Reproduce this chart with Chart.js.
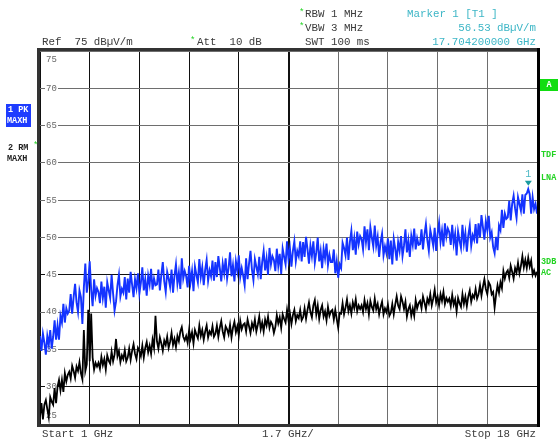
<!DOCTYPE html>
<html>
<head>
<meta charset="utf-8">
<script src="https://cdn.jsdelivr.net/npm/chart.js@4.4.0/dist/chart.umd.min.js"></script>
<style>
  html, body { margin: 0; padding: 0; background: #fff; }
  #screen { display: block; }
</style>
</head>
<body>
<canvas id="screen" width="558" height="439"></canvas>
<script>
// Sweep settings
const START_GHZ = 1;
const STOP_GHZ = 18;
const SPAN_PER_DIV = 1.7;

// X grid positions (GHz) and Y tick labels (dBuV/m)
const xGridTicks = [1, 2.7, 4.4, 6.1, 7.8, 9.5, 11.2, 12.9, 14.6, 16.3, 18];
const yTickLabels = [75, 70, 65, 60, 55, 50, 45, 40, 35, 30, 25];

// Trace 1: PK MAXH (blue), one row per GHz, 0.05 GHz steps
const trace1Pk = [
  36.8, 34.8, 37.1, 35.9, 34.3, 36.8, 35.6, 37.6, 35.1, 36.7, 38.9, 36.3, 38.2, 36.3, 39.5, 38.6, 41.1, 38.6, 40.5, 39.8,
  40.2, 42.4, 39.8, 42.0, 43.8, 41.3, 40.0, 42.9, 42.0, 38.4, 43.3, 46.5, 42.6, 44.1, 46.8, 43.0, 40.8, 44.4, 42.2, 43.2,
  42.7, 41.2, 44.1, 41.9, 43.4, 40.6, 44.0, 42.9, 41.9, 45.0, 42.5, 40.2, 41.4, 43.6, 45.0, 42.1, 43.1, 42.6, 44.7, 41.7,
  44.5, 42.6, 45.4, 43.7, 42.0, 44.4, 43.2, 45.2, 42.5, 43.9, 46.0, 42.9, 44.4, 42.2, 44.9, 43.7, 45.8, 43.0, 44.5, 43.6,
  43.7, 45.7, 42.9, 45.0, 46.7, 44.1, 42.7, 45.4, 44.5, 43.4, 45.7, 42.6, 44.9, 46.4, 43.8, 45.3, 43.1, 47.2, 44.5, 45.5,
  44.8, 43.3, 46.2, 44.0, 45.5, 42.8, 46.1, 45.0, 44.0, 47.1, 44.7, 46.0, 43.6, 45.7, 47.0, 44.2, 45.6, 44.8, 46.9, 44.2,
  46.7, 44.7, 47.5, 45.9, 44.1, 46.5, 45.2, 47.2, 44.5, 45.9, 48.0, 44.8, 46.3, 44.1, 46.8, 45.5, 47.6, 44.7, 45.9, 44.9,
  43.6, 47.2, 44.4, 46.5, 48.2, 45.7, 44.3, 47.1, 46.1, 45.1, 47.4, 44.4, 46.7, 48.2, 45.6, 47.2, 45.0, 48.6, 46.4, 47.5,
  47.0, 45.5, 48.5, 46.2, 47.8, 45.1, 48.5, 47.4, 46.4, 49.5, 47.1, 48.5, 46.1, 48.2, 49.5, 46.8, 48.2, 47.5, 49.5, 46.8,
  49.4, 47.4, 50.1, 48.4, 46.5, 48.9, 47.5, 49.5, 46.6, 48.0, 50.0, 46.8, 48.2, 45.9, 48.5, 47.2, 49.2, 46.3, 47.7, 46.7,
  46.7, 48.4, 45.2, 46.8, 44.6, 46.4, 45.9, 49.3, 48.6, 47.6, 50.0, 47.0, 49.4, 50.9, 48.3, 49.9, 47.7, 50.8, 49.1, 50.2,
  49.8, 48.4, 51.5, 49.4, 51.1, 48.3, 51.4, 50.0, 48.8, 51.6, 48.9, 50.1, 47.4, 49.4, 50.5, 47.6, 48.8, 47.9, 49.9, 47.1,
  49.6, 46.4, 49.8, 48.5, 46.9, 49.4, 48.2, 50.2, 47.5, 48.9, 51.1, 48.0, 49.6, 47.4, 50.2, 49.0, 51.2, 48.4, 49.9, 49.0,
  49.1, 51.1, 48.4, 50.4, 51.8, 49.6, 48.2, 51.0, 50.0, 48.9, 51.3, 48.2, 50.5, 52.0, 49.4, 50.9, 48.8, 51.9, 50.1, 51.2,
  50.7, 49.0, 51.7, 49.2, 50.5, 47.6, 50.8, 49.6, 48.6, 51.7, 49.2, 50.6, 48.1, 50.3, 51.6, 48.9, 50.3, 49.7, 51.8, 49.2,
  51.9, 50.0, 53.0, 51.4, 49.7, 52.2, 51.0, 52.9, 50.0, 50.7, 48.7, 47.9, 50.1, 48.3, 51.6, 51.0, 53.7, 51.3, 53.2, 52.5,
  52.7, 54.9, 52.3, 54.5, 55.6, 53.9, 52.6, 55.4, 54.5, 53.6, 55.8, 53.2, 55.7, 55.9, 56.5, 55.8, 53.2, 55.4, 53.8, 54.5,
  53.2
];

// Trace 2: RM MAXH (black), same sweep points
const trace2Rm = [
  26.0, 27.8, 25.6, 27.6, 28.2, 27.0, 25.9, 28.6, 28.0, 27.6, 29.8, 27.8, 30.0, 30.9, 29.5, 30.9, 29.3, 31.8, 30.7, 31.6,
  32.0, 31.1, 32.8, 32.1, 31.2, 32.7, 32.1, 33.3, 31.8, 31.0, 37.6, 32.1, 33.0, 40.3, 33.4, 39.8, 33.9, 32.3, 33.2, 32.7,
  33.2, 32.4, 34.0, 32.9, 33.7, 32.3, 34.2, 33.5, 33.1, 34.7, 33.4, 34.3, 36.4, 34.1, 34.8, 33.3, 34.2, 33.7, 34.9, 33.4,
  33.9, 35.1, 33.6, 34.8, 35.7, 34.4, 33.7, 35.2, 34.8, 34.1, 35.5, 33.9, 35.2, 36.0, 34.6, 35.5, 34.4, 36.3, 35.2, 39.5,
  36.1, 35.1, 36.6, 35.8, 34.8, 36.2, 35.6, 36.7, 35.2, 36.0, 37.2, 35.6, 36.4, 35.3, 36.8, 36.1, 37.4, 38.0, 36.7, 36.2,
  36.8, 35.9, 37.6, 36.4, 37.3, 35.8, 37.6, 37.0, 36.5, 38.2, 36.8, 37.6, 36.3, 37.4, 38.2, 36.6, 37.4, 37.0, 38.1, 36.7,
  37.1, 38.2, 36.7, 37.9, 38.8, 37.4, 36.6, 38.1, 37.7, 37.0, 38.3, 36.6, 37.9, 38.7, 37.3, 38.1, 36.9, 38.8, 37.7, 38.3,
  38.5, 37.4, 39.0, 38.1, 37.2, 38.5, 37.8, 39.0, 37.4, 38.3, 39.4, 37.7, 38.6, 37.4, 39.0, 38.2, 39.4, 37.9, 38.7, 38.3,
  37.2, 38.0, 39.6, 38.5, 39.3, 37.9, 39.7, 39.1, 38.6, 40.3, 38.9, 39.8, 38.4, 39.6, 40.3, 38.8, 39.6, 39.2, 40.3, 38.9,
  39.3, 40.5, 39.1, 40.3, 41.3, 40.0, 39.3, 40.9, 41.6, 39.7, 40.9, 39.1, 40.3, 40.9, 39.4, 40.1, 38.9, 40.7, 39.5, 40.1,
  40.3, 39.0, 40.3, 39.1, 37.9, 39.9, 39.8, 41.2, 39.7, 40.6, 41.7, 40.1, 40.9, 39.8, 41.3, 40.5, 41.7, 40.1, 40.9, 40.4,
  40.9, 40.0, 41.6, 40.4, 41.2, 39.7, 41.5, 40.7, 40.2, 41.8, 40.4, 41.1, 39.7, 40.7, 41.4, 39.7, 40.5, 40.0, 41.0, 39.5,
  39.9, 41.1, 39.7, 41.0, 42.1, 40.9, 40.4, 42.1, 41.4, 40.4, 41.4, 39.4, 40.4, 40.9, 39.5, 40.5, 39.5, 41.6, 40.5, 41.2,
  41.5, 40.5, 42.1, 41.3, 40.4, 41.8, 41.2, 42.4, 40.9, 41.8, 43.0, 41.3, 42.1, 40.9, 42.4, 41.5, 42.7, 41.1, 41.9, 41.4,
  41.8, 40.8, 42.3, 41.0, 41.7, 40.1, 41.9, 41.2, 40.7, 42.4, 41.1, 42.1, 40.8, 42.1, 42.9, 41.4, 42.3, 41.9, 43.1, 41.8,
  42.4, 43.6, 42.2, 43.4, 44.4, 43.1, 42.4, 44.0, 43.6, 42.4, 42.7, 40.6, 42.3, 43.6, 42.6, 44.0, 43.2, 45.5, 44.5, 45.3,
  45.6, 44.6, 46.2, 45.4, 44.5, 45.9, 45.3, 46.6, 45.2, 46.2, 47.5, 46.0, 47.0, 45.9, 47.3, 46.1, 46.9, 45.0, 45.6, 44.9,
  45.4
];

// Marker 1 on trace 1
const marker1 = { freqGHz: 17.7042, level: 56.53 };

const MONO = '"Liberation Mono", "DejaVu Sans Mono", monospace';

const AnalyzerScreen = {
  chart: null,

  /**
   * Pair each sweep value with its frequency
   */
  toPoints: function(values) {
    const step = (STOP_GHZ - START_GHZ) / (values.length - 1);
    return values.map((v, i) => ({ x: START_GHZ + i * step, y: v }));
  },

  text: function(ctx, str, x, y, color, font, align) {
    ctx.font = font;
    ctx.fillStyle = color;
    ctx.textAlign = align || 'left';
    ctx.textBaseline = 'middle';
    ctx.fillText(str, x, y);
  },

  /**
   * Screen decorations: labels, marker, frame
   */
  screenPlugin: function() {
    const self = this;
    return {
      id: 'screen',
      beforeDraw: function(chart) {
        const ctx = chart.ctx;
        ctx.save();
        ctx.fillStyle = '#fff';
        ctx.fillRect(0, 0, chart.width, chart.height);
        ctx.restore();
      },
      beforeDatasetsDraw: function(chart) {
        // level labels sit inside the grid, left edge
        const ctx = chart.ctx;
        const y = chart.scales.y;
        const x0 = chart.chartArea.left;
        ctx.save();
        yTickLabels.forEach(v => {
          let py = y.getPixelForValue(v);
          if (v === 75) py += 9;
          if (v === 25) py -= 8;
          ctx.fillStyle = '#fff';
          ctx.fillRect(x0 + 5, py - 4, 13, 9);
          self.text(ctx, String(v), x0 + 11.5, py, '#666', '9px ' + MONO, 'center');
        });
        ctx.restore();
      },
      afterDatasetsDraw: function(chart) {
        const ctx = chart.ctx;
        const mx = chart.scales.x.getPixelForValue(marker1.freqGHz);
        const my = chart.scales.y.getPixelForValue(marker1.level);
        ctx.save();
        ctx.fillStyle = '#1a9aa0';
        ctx.beginPath();
        ctx.moveTo(mx - 3.5, my - 8);
        ctx.lineTo(mx + 3.5, my - 8);
        ctx.lineTo(mx, my - 3);
        ctx.closePath();
        ctx.fill();
        self.text(ctx, '1', mx, my - 14, '#4cb8c4', '10px ' + MONO, 'center');
        ctx.restore();
      },
      afterDraw: function(chart) {
        const ctx = chart.ctx;
        const a = chart.chartArea;
        const hdr = '10.8px ' + MONO;
        const grey = '#3a3a3a';
        const cyan = '#3db6c6';
        const green = '#22d322';
        ctx.save();

        // frame
        ctx.strokeStyle = '#333';
        ctx.lineWidth = 3;
        ctx.strokeRect(a.left - 1.5, a.top - 1.5, a.right - a.left + 3, a.bottom - a.top + 3);
        ctx.strokeStyle = '#000';
        ctx.beginPath();
        ctx.moveTo(a.right + 1.5, a.top - 3);
        ctx.lineTo(a.right + 1.5, a.bottom + 3);
        ctx.stroke();

        // header
        self.text(ctx, '*', 299, 13, green, '9px ' + MONO);
        self.text(ctx, '*', 299, 27, green, '9px ' + MONO);
        self.text(ctx, '*', 190, 41, green, '9px ' + MONO);
        self.text(ctx, 'RBW 1 MHz', 305, 14, grey, hdr);
        self.text(ctx, 'VBW 3 MHz', 305, 28, grey, hdr);
        self.text(ctx, 'SWT 100 ms', 305, 42, grey, hdr);
        self.text(ctx, 'Ref  75 dB\u00b5V/m', 42, 42, grey, hdr);
        self.text(ctx, 'Att  10 dB', 197, 42, grey, hdr);
        self.text(ctx, 'Marker 1 [T1 ]', 407, 14, cyan, hdr);
        self.text(ctx, '56.53 dB\u00b5V/m', 536, 28, cyan, hdr, 'right');
        self.text(ctx, '17.704200000 GHz', 536, 42, cyan, hdr, 'right');

        // footer
        self.text(ctx, 'Start 1 GHz', 42, 434, grey, hdr);
        self.text(ctx, SPAN_PER_DIV + ' GHz/', 262, 434, grey, hdr);
        self.text(ctx, 'Stop 18 GHz', 536, 434, grey, hdr, 'right');

        // trace info, left side
        const side = 'bold 8.5px ' + MONO;
        ctx.fillStyle = '#1e3cff';
        ctx.fillRect(6, 104, 25, 23);
        self.text(ctx, '1 PK', 8, 110, '#fff', side);
        self.text(ctx, 'MAXH', 7, 121, '#fff', side);
        self.text(ctx, '2 RM', 8, 148, '#222', side);
        self.text(ctx, '*', 33, 146, green, '9px ' + MONO);
        self.text(ctx, 'MAXH', 7, 159, '#222', side);

        // right side flags
        ctx.fillStyle = '#11dd11';
        ctx.fillRect(540, 79, 18, 12);
        self.text(ctx, 'A', 549, 85, '#fff', side, 'center');
        self.text(ctx, 'TDF', 541, 155, green, side);
        self.text(ctx, 'LNA', 541, 178, green, side);
        self.text(ctx, '3DB', 541, 262, green, side);
        self.text(ctx, 'AC', 541, 273, green, side);

        ctx.restore();
      }
    };
  },

  init: function() {
    const canvas = document.getElementById('screen');
    const blackY = [45, 30];

    this.chart = new Chart(canvas, {
      type: 'line',
      data: {
        datasets: [
          {
            label: '2 RM MAXH',
            data: this.toPoints(trace2Rm),
            borderColor: '#000',
            borderWidth: 1.8,
            pointRadius: 0,
            tension: 0,
            order: 0
          },
          {
            label: '1 PK MAXH',
            data: this.toPoints(trace1Pk),
            borderColor: '#1433ff',
            borderWidth: 1.9,
            pointRadius: 0,
            tension: 0,
            order: 1
          }
        ]
      },
      options: {
        responsive: false,
        animation: false,
        devicePixelRatio: 1,
        layout: { padding: { left: 40, right: 21, top: 51, bottom: 15 } },
        plugins: {
          legend: { display: false },
          tooltip: { enabled: false }
        },
        scales: {
          x: {
            type: 'linear',
            min: START_GHZ,
            max: STOP_GHZ,
            afterBuildTicks: function(scale) {
              scale.ticks = xGridTicks.map(v => ({ value: v }));
            },
            ticks: { display: false },
            border: { display: false },
            grid: {
              drawTicks: false,
              color: function(c) {
                return c.index <= 5 ? '#111' : '#6e6e6e';
              },
              lineWidth: function(c) {
                return c.index === 5 ? 2 : 1;
              }
            }
          },
          y: {
            min: 25,
            max: 75,
            ticks: { display: false, stepSize: 5 },
            border: { display: false },
            grid: {
              drawTicks: false,
              color: function(c) {
                return blackY.includes(c.tick.value) ? '#111' : '#6e6e6e';
              },
              lineWidth: 1
            }
          }
        }
      },
      plugins: [this.screenPlugin()]
    });
  }
};

AnalyzerScreen.init();
window.AnalyzerScreen = AnalyzerScreen;
</script>
</body>
</html>
